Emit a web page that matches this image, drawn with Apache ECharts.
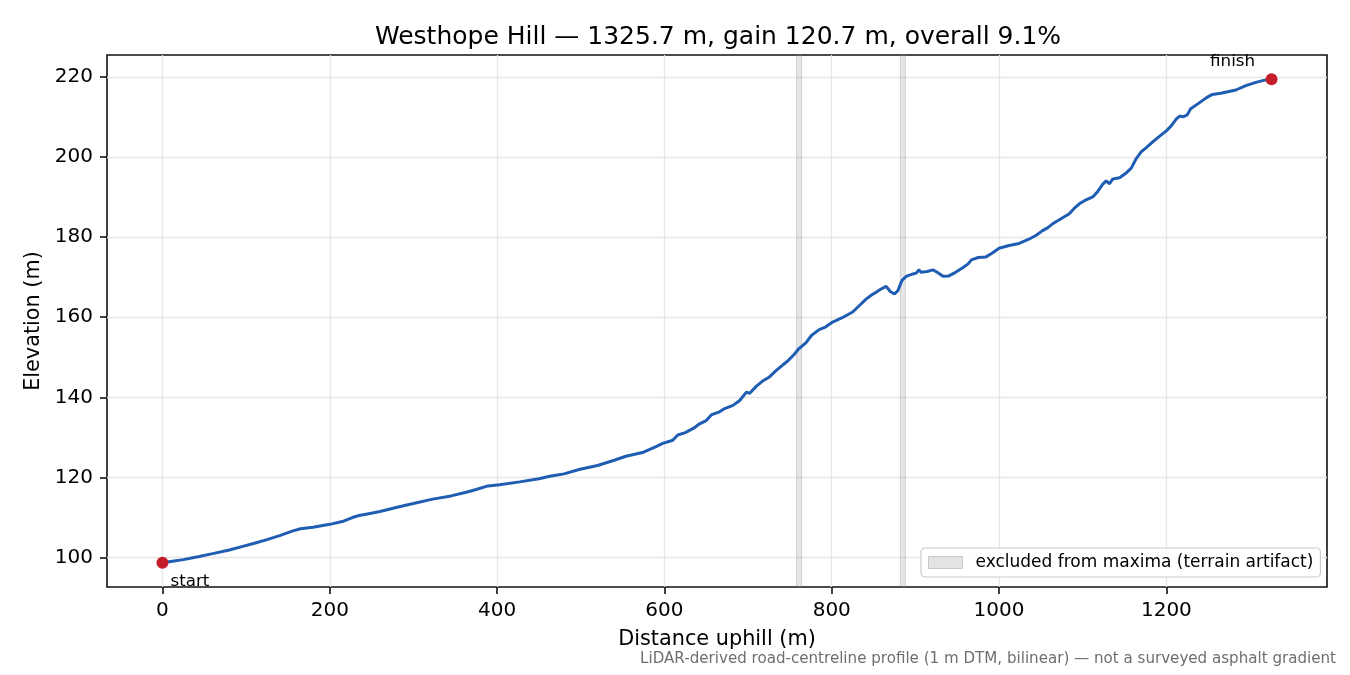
<!DOCTYPE html>
<html>
<head>
<meta charset="utf-8">
<script src="https://cdn.jsdelivr.net/npm/echarts@6/dist/echarts.min.js"></script>
<style>html,body{margin:0;padding:0;background:#fff}#c{width:1350px;height:675px}</style>
</head>
<body>
<div id="c"></div>
<script>
// ---- data ----
const dist = [0,12,25,44,60,80,96,110,125,140,155,165,180,200,215,227,235,245,260,283,300,323,345,363,375,389,403,427,450,463,480,498,520,540,554,575,590,598,610,616,625,635,642,650,656,665,672,682,690,698,702,710,717,725,733,741,748,755,760,769,776,785,793,801,812,825,835,841,848,853,858,865,870,875,879,884,889,897,901,904,907,914,921,926,933,940,948,957,963,967,975,984,992,1000,1012,1024,1035,1044,1052,1058,1064,1075,1084,1090,1096,1104,1112,1118,1124,1128,1132,1136,1144,1152,1158,1164,1170,1176,1184,1192,1200,1206,1212,1216,1220,1225,1229,1238,1248,1255,1265,1283,1295,1307,1316,1325.7];
const elev = [98.7,99.1,99.5,100.3,101.0,101.9,102.8,103.6,104.5,105.5,106.6,107.2,107.6,108.3,109.0,110.0,110.5,110.9,111.5,112.7,113.5,114.6,115.4,116.3,117.0,117.9,118.2,118.9,119.7,120.3,120.9,122.0,123.0,124.3,125.3,126.3,127.7,128.5,129.3,130.6,131.2,132.3,133.4,134.2,135.6,136.3,137.2,138.0,139.2,141.3,141.0,142.8,144.0,145.0,146.6,148.0,149.2,150.7,152.0,153.6,155.5,156.9,157.6,158.8,159.8,161.3,163.3,164.5,165.6,166.2,166.9,167.7,166.4,165.8,166.6,169.2,170.2,170.8,171.0,171.8,171.2,171.4,171.8,171.2,170.2,170.3,171.2,172.4,173.3,174.3,174.9,175.0,176.0,177.2,177.9,178.4,179.4,180.4,181.6,182.3,183.3,184.7,185.8,187.2,188.3,189.3,190.0,191.4,193.2,194.0,193.3,194.5,194.8,196.0,197.2,199.6,201.3,202.3,203.8,205.2,206.5,207.8,209.5,210.2,210.0,210.5,212.0,213.3,214.8,215.6,215.9,216.7,217.8,218.6,219.1,219.4];
const excludedBands = [[758, 764], [882, 888]];
const xTicks = [0, 200, 400, 600, 800, 1000, 1200];
const yTicks = [100, 120, 140, 160, 180, 200, 220];
const endLabels = ['start', 'finish'];
const titleText = 'Westhope Hill — 1325.7 m, gain 120.7 m, overall 9.1%';
const bandName = 'excluded from maxima (terrain artifact)';
const footText = 'LiDAR-derived road-centreline profile (1 m DTM, bilinear) — not a surveyed asphalt gradient';

// ---- chart ----
const n = dist.length;
const lineData = dist.map((d, i) => [d, elev[i]]);
const span = dist[n - 1] - dist[0];
const eMin = Math.min(...elev), eMax = Math.max(...elev);
const xMin = dist[0] - span * 0.05, xMax = dist[n - 1] + span * 0.05;
const yMin = eMin - (eMax - eMin) * 0.05, yMax = eMax + (eMax - eMin) * 0.05;
const font = 'DejaVu Sans';

const chart = echarts.init(document.getElementById('c'), null, {renderer: 'canvas'});
chart.setOption({
  animation: false,
  backgroundColor: '#fff',
  textStyle: {fontFamily: font},
  title: {
    text: titleText, left: 713, top: 20, textAlign: 'center',
    textStyle: {fontFamily: font, fontSize: 25, fontWeight: 'normal', color: '#000'}
  },
  grid: {left: 107, right: 23, top: 55, bottom: 88, show: true, borderColor: '#111', borderWidth: 1.6, backgroundColor: 'transparent'},
  legend: {
    left: 921, top: 548,
    padding: [6, 7, 6, 7],
    itemWidth: 34, itemHeight: 12,
    backgroundColor: 'rgba(255,255,255,0.85)',
    borderColor: '#cccccc', borderWidth: 1.2, borderRadius: 4,
    textStyle: {fontFamily: font, fontSize: 17, color: '#000', padding: [0, 0, 0, 8]},
    data: [{name: bandName, icon: 'rect', itemStyle: {color: '#e4e4e4', borderColor: '#c9c9c9', borderWidth: 1}}]
  },
  xAxis: {
    type: 'value', min: xMin, max: xMax,
    name: 'Distance uphill (m)', nameLocation: 'middle', nameGap: 42,
    nameTextStyle: {fontFamily: font, fontSize: 20.8, color: '#000'},
    axisLine: {show: false, onZero: false},
    axisTick: {show: true, length: 7, inside: false, lineStyle: {color: '#111', width: 1.6}, customValues: xTicks},
    axisLabel: {margin: 14, fontFamily: font, fontSize: 20, color: '#000', customValues: xTicks, formatter: v => String(v)},
    splitLine: {show: true, lineStyle: {color: '#e6e6e6', width: 1.3}}
  },
  yAxis: {
    type: 'value', min: yMin, max: yMax,
    name: 'Elevation (m)', nameLocation: 'middle', nameGap: 61,
    nameTextStyle: {fontFamily: font, fontSize: 20.8, color: '#000'},
    axisLine: {show: false, onZero: false},
    axisTick: {show: true, length: 7, inside: false, lineStyle: {color: '#111', width: 1.6}, customValues: yTicks},
    axisLabel: {margin: 14, fontFamily: font, fontSize: 20, color: '#000', customValues: yTicks, formatter: v => String(v)},
    splitLine: {show: true, lineStyle: {color: '#e6e6e6', width: 1.3}}
  },
  series: [
    {
      name: bandName, type: 'line', data: [], silent: true,
      markArea: {
        silent: true,
        itemStyle: {color: 'rgba(128,128,128,0.2)', borderColor: 'rgba(128,128,128,0.3)', borderWidth: 1},
        data: excludedBands.map(b => [{xAxis: b[0]}, {xAxis: b[1]}])
      }
    },
    {
      name: 'profile', type: 'line', data: lineData, showSymbol: false, smooth: false,
      lineStyle: {color: '#1f5db3', width: 3}, z: 3
    },
    {
      name: 'ends', type: 'scatter', z: 4, symbolSize: 12,
      itemStyle: {color: '#c41e2a', opacity: 1},
      data: [
        {value: [dist[0], elev[0]], name: endLabels[0],
         label: {show: true, position: 'bottom', align: 'left', offset: [8, 0], distance: 4, formatter: '{b}', fontFamily: font, fontSize: 16.7, color: '#000'}},
        {value: [dist[n - 1], elev[n - 1]], name: endLabels[1],
         label: {show: true, position: 'top', offset: [-39, 2], distance: 5, formatter: '{b}', fontFamily: font, fontSize: 16.7, color: '#000'}}
      ]
    }
  ],
  graphic: [{
    type: 'text', right: 14, top: 652,
    style: {text: footText, fontFamily: font, fontSize: 15.1, fill: '#6e6e6e'}
  }]
});
</script>
</body>
</html>
